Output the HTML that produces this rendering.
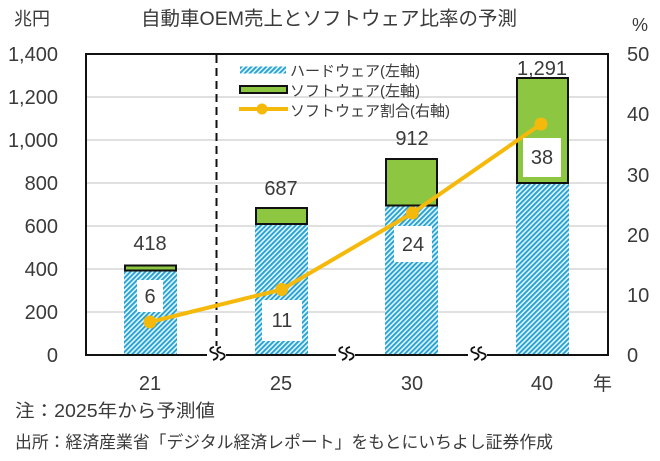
<!DOCTYPE html>
<html><head><meta charset="utf-8"><style>
html,body{margin:0;padding:0;background:#fff;}
svg{display:block;}
text{font-family:"Liberation Sans","Noto Sans CJK JP",sans-serif;fill:#3a3a3a;}
</style></head><body>
<svg width="660" height="461" viewBox="0 0 660 461" xmlns="http://www.w3.org/2000/svg">
<defs>
<pattern id="h" patternUnits="userSpaceOnUse" width="3.5" height="3.5" patternTransform="rotate(45)">
<rect x="0" y="0" width="3.5" height="3.5" fill="#E4F5FC"/>
<rect x="0" y="0" width="1.9" height="3.5" fill="#25A2D4"/>
</pattern>
</defs>
<rect width="660" height="461" fill="#fff"/>
<!-- title -->
<text x="329" y="25" font-size="19.5" text-anchor="middle" fill="#333">自動車OEM売上とソフトウェア比率の予測</text>
<text x="14" y="25" font-size="18">兆円</text>
<text x="632" y="31" font-size="18">%</text>
<!-- gridlines -->
<g stroke="#d6d6d6" stroke-width="1.5">
<line x1="86" x2="608" y1="312" y2="312"/>
<line x1="86" x2="608" y1="269" y2="269"/>
<line x1="86" x2="608" y1="226" y2="226"/>
<line x1="86" x2="608" y1="183" y2="183"/>
<line x1="86" x2="608" y1="140" y2="140"/>
<line x1="86" x2="608" y1="97" y2="97"/>
</g>
<!-- left ticks -->
<g font-size="20" text-anchor="end">
<text x="58" y="61">1,400</text>
<text x="58" y="104">1,200</text>
<text x="58" y="147">1,000</text>
<text x="58" y="190">800</text>
<text x="58" y="233">600</text>
<text x="58" y="276">400</text>
<text x="58" y="319">200</text>
<text x="58" y="362">0</text>
</g>
<!-- right ticks -->
<g font-size="20">
<text x="627" y="61">50</text>
<text x="627" y="121">40</text>
<text x="627" y="182">30</text>
<text x="627" y="242">20</text>
<text x="627" y="302">10</text>
<text x="627" y="362">0</text>
</g>
<!-- bars -->
<rect x="124" y="270.5" width="53" height="84.5" fill="url(#h)"/>
<rect x="125" y="265.5" width="51" height="5" fill="#8DC641" stroke="#111" stroke-width="2"/>
<rect x="255" y="223.6" width="53" height="131.4" fill="url(#h)"/>
<rect x="256" y="208" width="51" height="16" fill="#8DC641" stroke="#111" stroke-width="2"/>
<rect x="385" y="205.5" width="53" height="149.5" fill="url(#h)"/>
<rect x="386" y="159" width="51" height="46.5" fill="#8DC641" stroke="#111" stroke-width="2"/>
<rect x="516" y="183" width="53" height="172" fill="url(#h)"/>
<rect x="517" y="78" width="51" height="105" fill="#8DC641" stroke="#111" stroke-width="2"/>
<!-- dashed divider -->
<line x1="216.5" y1="55" x2="216.5" y2="352" stroke="#111" stroke-width="2" stroke-dasharray="8,5"/>
<!-- plot border -->
<rect x="86" y="54" width="522" height="301" fill="none" stroke="#111" stroke-width="2"/>
<!-- break marks -->
<g fill="none" stroke="#111" stroke-width="1.8">
<rect x="207" y="346" width="19" height="16" fill="#fff" stroke="none"/>
<path d="M214 347 c-5 1 -5 5 0 6 c5 1 5 5 -1 7"/>
<path d="M221 347 c-5 1 -5 5 0 6 c5 1 5 5 -1 7"/>
<rect x="336" y="346" width="19" height="16" fill="#fff" stroke="none"/>
<path d="M343 347 c-5 1 -5 5 0 6 c5 1 5 5 -1 7"/>
<path d="M350 347 c-5 1 -5 5 0 6 c5 1 5 5 -1 7"/>
<rect x="468" y="346" width="19" height="16" fill="#fff" stroke="none"/>
<path d="M475 347 c-5 1 -5 5 0 6 c5 1 5 5 -1 7"/>
<path d="M482 347 c-5 1 -5 5 0 6 c5 1 5 5 -1 7"/>
</g>
<!-- line series -->
<polyline points="150,322 281.7,289.5 412.5,213 541,124" fill="none" stroke="#F5B90C" stroke-width="4" stroke-linejoin="round"/>
<g fill="#F5B90C">
<circle cx="150" cy="322" r="6.5"/>
<circle cx="281.7" cy="289.5" r="6.5"/>
<circle cx="412.5" cy="213" r="6.5"/>
<circle cx="541" cy="124" r="6.5"/>
</g>
<!-- inner label boxes -->
<g fill="#fff">
<rect x="137" y="280" width="26" height="32"/>
<rect x="262" y="300" width="40" height="41"/>
<rect x="394" y="226" width="38" height="36"/>
<rect x="523" y="138" width="38" height="39"/>
</g>
<g font-size="20" text-anchor="middle">
<text x="150" y="303">6</text>
<text x="282" y="327">11</text>
<text x="413" y="251">24</text>
<text x="542" y="164">38</text>
<text x="150" y="250">418</text>
<text x="281" y="195">687</text>
<text x="412" y="145">912</text>
<text x="542" y="75">1,291</text>
</g>
<!-- legend -->
<rect x="240" y="66.5" width="46" height="7" fill="url(#h)"/>
<rect x="240" y="86" width="47" height="7" fill="#8DC641" stroke="#111" stroke-width="2"/>
<line x1="239" y1="109" x2="288" y2="109" stroke="#F5B90C" stroke-width="4"/>
<circle cx="262" cy="109" r="5.5" fill="#F5B90C"/>
<g font-size="15">
<text x="290" y="76">ハードウェア(左軸)</text>
<text x="290" y="96">ソフトウェア(左軸)</text>
<text x="290" y="116">ソフトウェア割合(右軸)</text>
</g>
<!-- x labels -->
<g font-size="20" text-anchor="middle">
<text x="150" y="390">21</text>
<text x="281" y="390">25</text>
<text x="412" y="390">30</text>
<text x="542" y="390">40</text>
</g>
<text x="593" y="390" font-size="19">年</text>
<!-- notes -->
<text x="15" y="417" font-size="18" textLength="200" lengthAdjust="spacingAndGlyphs">注：2025年から予測値</text>
<text x="15" y="448" font-size="17" textLength="538" lengthAdjust="spacingAndGlyphs">出所：経済産業省「デジタル経済レポート」をもとにいちよし証券作成</text>
</svg>
</body></html>
